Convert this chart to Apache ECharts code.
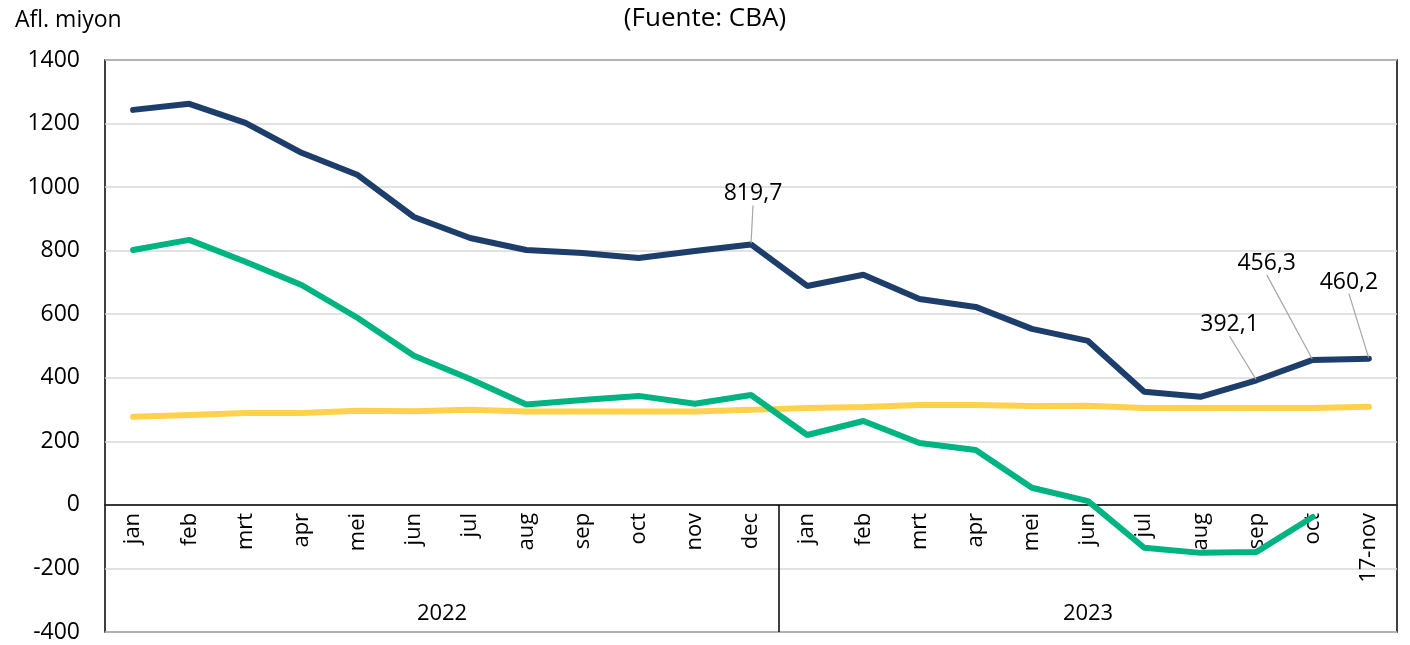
<!DOCTYPE html>
<html><head><meta charset="utf-8">
<script src="https://cdn.jsdelivr.net/npm/echarts@6/dist/echarts.min.js"></script>
<style>html,body{margin:0;padding:0;background:#fff}#c{width:1410px;height:645px}</style>
</head><body><div id="c"></div>
<script>
// ---- data ----
const months = ['jan','feb','mrt','apr','mei','jun','jul','aug','sep','oct','nov','dec',
                'jan','feb','mrt','apr','mei','jun','jul','aug','sep','oct','17-nov'];
const years = ['2022','2023'];
const yearSpans = [12, 11];
const navy   = [1243,1262,1202,1108,1038,906,840,802,793,777,799,819.7,
                689,724,648,623,554,516,356,340,392.1,456.3,460.2];
const green  = [802,834,765,692,588,469,396,316,330,343,318,346,
                220,264,195,173,54,12,-135,-151,-148,-38,null];
const yellow = [277,283,289,289,296,295,299,294,294,294,294,299,
                305,308,314,314,311,312,305,305,305,305,309];
const labelledIdx = [11,20,21,22];
const yMin = -400, yMax = 1400, yStep = 200;

// ---- derived ----
const yearBounds = [];
const yearCenters = [];
let acc = 0;
yearSpans.forEach(s => { yearCenters.push(acc + s/2); acc += s; yearBounds.push(acc); });
const fmt = v => String(v).replace('.', ',');
const FONT = 'Open Sans';

// layout (style)
const W = 1410, H = 645;
const G = {left: 105, right: 13, top: 60, bottom: 13};
const gridH = H - G.top - G.bottom;
const zeroOffset = -gridH * (0 - yMin) / (yMax - yMin);   // move category axis up to y = 0
const labelShift = {11:[2,-33], 20:[-27,-38], 21:[-46,-79], 22:[-20,-59]};
const C = {navy: '#1D3D6B', green: '#00B482', yellow: '#FFD14C'};

const chart = echarts.init(document.getElementById('c'), null, {renderer:'canvas'});
chart.setOption({
  animation: false,
  textStyle: {fontFamily: FONT},
  title: [
    {text: '(Fuente: CBA)', left: 'center', top: 1,
     textStyle: {fontFamily: FONT, fontSize: 26, fontWeight: 'normal', color: '#000'}},
    {text: 'Afl. miyon', left: 10, top: 4,
     textStyle: {fontFamily: FONT, fontSize: 23, fontWeight: 'normal', color: '#000'}}
  ],
  grid: Object.assign({show: true, containLabel: false, outerBoundsMode: 'none',
         borderColor: '#000', borderWidth: 1.5, backgroundColor: 'transparent'}, G),
  xAxis: [
    {type: 'category', data: months, boundaryGap: true, position: 'bottom', offset: zeroOffset,
     axisLine: {onZero: false, lineStyle: {color: '#000', width: 1.5}},
     axisTick: {show: false},
     axisLabel: {rotate: 90, interval: 0, fontSize: 22, color: '#000', margin: 8, fontFamily: FONT},
     splitLine: {show: false}},
    {type: 'value', min: 0, max: months.length, position: 'bottom',
     axisLine: {show: false, onZero: false}, axisTick: {show: false}, splitLine: {show: false},
     axisLabel: {inside: true, margin: 7, customValues: yearCenters, fontSize: 22, color: '#000',
                 fontFamily: FONT,
                 formatter: v => { const i = yearCenters.indexOf(v); return i >= 0 ? years[i] : ''; }}}
  ],
  yAxis: {type: 'value', min: yMin, max: yMax, interval: yStep,
          axisLine: {show: false}, axisTick: {show: false},
          axisLabel: {fontSize: 23, color: '#000', margin: 25, fontFamily: FONT, formatter: v => String(v)},
          splitLine: {lineStyle: {color: '#d9d9d9', width: 1.5}}},
  series: [
    {type: 'line', name: 'sep', xAxisIndex: 1, data: [], silent: true,
     markLine: {symbol: 'none', silent: true, label: {show: false},
       lineStyle: {color: '#000', width: 1.5, type: 'solid'},
       data: yearBounds.slice(0, -1).map(b => [{coord: [b, 0]}, {coord: [b, yMin]}])}},
    {type: 'line', name: 'yellow', data: yellow, showSymbol: false, symbol: 'none',
     lineStyle: {color: C.yellow, width: 6, cap: 'round'}, itemStyle: {color: C.yellow}},
    {type: 'line', name: 'green', data: green, showSymbol: false, symbol: 'none',
     lineStyle: {color: C.green, width: 6, cap: 'round'}, itemStyle: {color: C.green}},
    {type: 'line', name: 'navy', showSymbol: true, symbol: 'circle', symbolSize: 2,
     data: navy.map((v, i) => labelledIdx.includes(i) ? {value: v, label: {show: true}} : v),
     lineStyle: {color: C.navy, width: 6, cap: 'round'}, itemStyle: {color: C.navy},
     label: {show: false, position: 'top', distance: 5, fontSize: 23, color: '#000', fontFamily: FONT,
             formatter: p => fmt(p.value)},
     labelLine: {show: true, lineStyle: {color: '#a6a6a6', width: 1.2}},
     labelLayout: p => { const s = labelShift[p.dataIndex]; return s ? {dx: s[0], dy: s[1]} : {}; }}
  ]
});
</script></body></html>
